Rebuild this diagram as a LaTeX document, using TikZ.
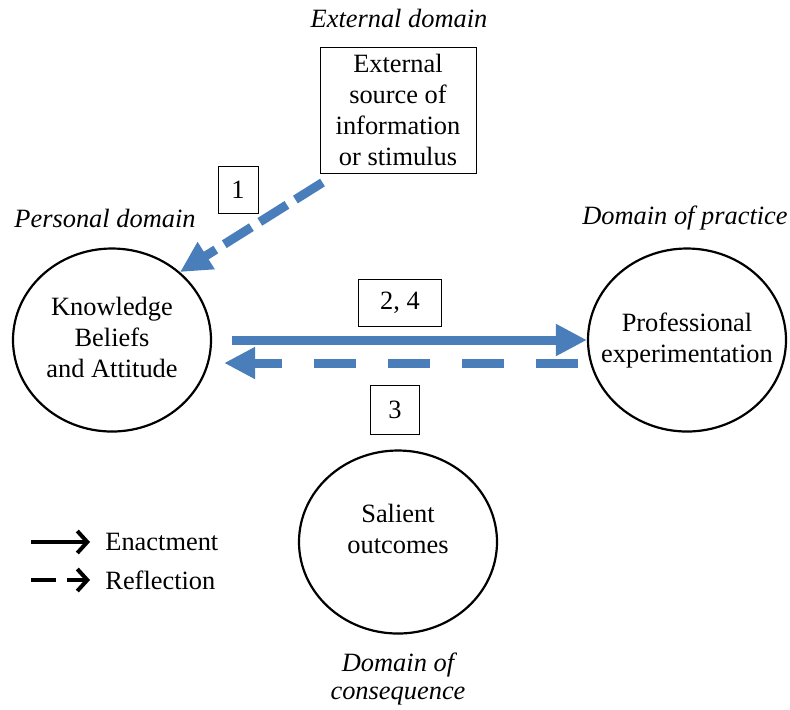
\documentclass[tikz,border=0pt]{standalone}
\usepackage{fontspec}
\setmainfont{Liberation Serif}
\usetikzlibrary{shapes.geometric,arrows.meta}
\definecolor{flowblue}{RGB}{74,126,187}

\begin{document}
\begin{tikzpicture}[x=0.5pt,y=-0.5pt,
		every node/.style={font=\fontsize{13.2pt}{15.5pt}\selectfont,align=center,inner sep=0pt},
		sphere/.style={draw,ellipse,line width=1.1pt,minimum width=99pt,minimum height=91.5pt},
		numbox/.style={draw,line width=0.5pt,minimum height=23.5pt},
		domainlbl/.style={font=\fontsize{13.2pt}{14pt}\selectfont\itshape},
		enact/.style={flowblue,line width=4.5pt,-{Triangle[length=15.5pt,width=15pt]}},
		reflect/.style={enact,dash pattern=on 21pt off 16pt},
		keyline/.style={line width=2pt,-{Straight Barb[length=5pt,width=11pt]}}]
				\useasboundingbox (0,0) rectangle (790,709);
				\node[domainlbl] (extlbl) at (399,18) {External domain};
				\node[draw,line width=0.5pt,minimum width=78pt,minimum height=63pt] (ext) at (398,110) {External\\source of\\information\\or stimulus};
				\node[domainlbl] (perlbl) at (105,218) {Personal domain};
				\node[domainlbl] (praclbl) at (685,218) {Domain of practice};
				\node[sphere,label={[name=kbatxt,yshift=1.5pt]center:{Knowledge\\Beliefs\\and Attitude}}] (kba) at (112,340) {};
				\node[sphere,label={[name=proftxt]center:{Professional\\experimentation}}] (prof) at (687,340) {};
				\node[sphere,label={[name=saltxt,yshift=6.5pt]center:{Salient\\outcomes}}] (sal) at (398,542) {};
				\node[domainlbl] (conslbl) at (398,679) {Domain of\\consequence};
				\node[numbox,minimum width=20pt] (n1) at (238,190) {1};
				\node[numbox,minimum width=41.5pt] (n24) at (400,303) {2, 4};
				\node[numbox,minimum width=24.5pt,minimum height=24.5pt] (n3) at (395,410) {3};
				\draw[reflect,dash pattern=on 16pt off 5pt] ([shift={(1.5pt,-4.5pt)}]ext.south west) -- (kba.45);
				\draw[enact] ([xshift=10pt]kba.east) -- (prof.west);
				\draw[reflect] ([shift={(-4.5pt,-11.5pt)}]prof.west) -- ([shift={(6pt,-11.5pt)}]kba.east);
				\node[anchor=west] (kenact) at (105,542) {Enactment};
				\node[anchor=west] (krefl) at (105,580) {Reflection};
				\coordinate (k1) at (31,542);
				\coordinate (k2) at (31,580);
				\draw[keyline] (k1) -- ([xshift=-7.5pt]kenact.west);
				\draw[keyline,dash pattern=on 12.5pt off 5.5pt] (k2) -- ([xshift=-7.5pt]krefl.west);
			\end{tikzpicture}
\end{document}
